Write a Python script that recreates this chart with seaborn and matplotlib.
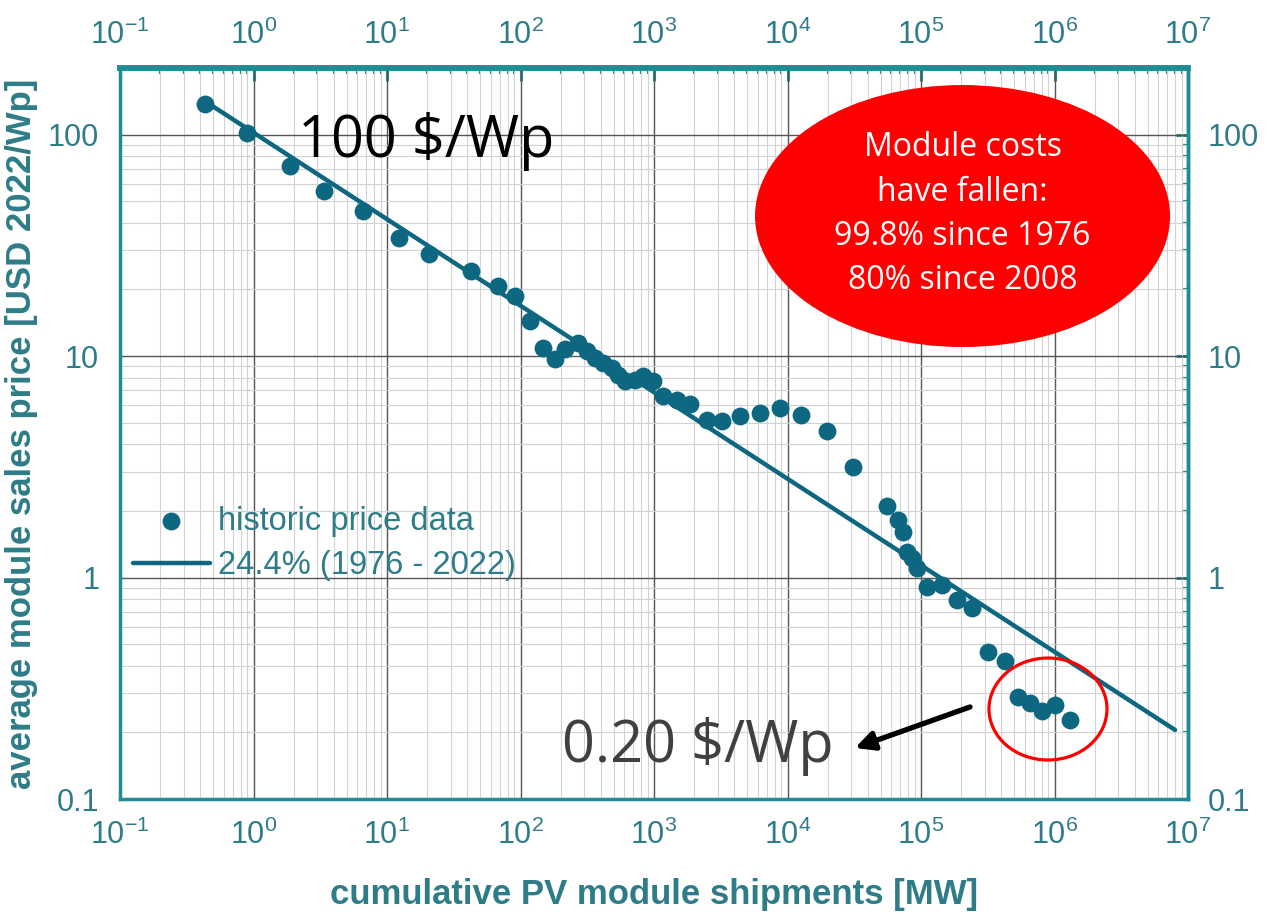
import matplotlib
matplotlib.use("Agg")
import numpy as np
import pandas as pd
import seaborn as sns
import matplotlib.pyplot as plt
from matplotlib.patches import Ellipse

# ---------------- data ----------------
ship_mw = [0.43, 0.89, 1.87, 3.37, 6.65, 12.3, 20.7, 42.6, 68, 91, 118, 148, 181, 215,
           271, 313, 362, 417, 482, 541, 607, 721, 832, 988, 1175, 1479, 1862, 2483,
           3215, 4400, 6220, 8790, 12560, 19660, 31130, 55300, 67600, 73700, 78100,
           85100, 92800, 111600, 143000, 185000, 240000, 319000, 426000, 535000,
           655000, 801000, 1009000, 1306000]
price = [137, 102, 72, 55.5, 45, 34, 28.9, 24.3, 20.8, 18.6, 14.4, 10.9, 9.7, 10.8,
         11.5, 10.5, 9.8, 9.3, 8.8, 8.2, 7.7, 7.8, 8.1, 7.7, 6.6, 6.35, 6.1, 5.16,
         5.07, 5.34, 5.52, 5.82, 5.43, 4.57, 3.17, 2.11, 1.82, 1.61, 1.31,
         1.22, 1.10, 0.91, 0.93, 0.79, 0.73, 0.46, 0.42, 0.29,
         0.27, 0.25, 0.266, 0.228]
fit_x = [0.43, 8.0e6]
fit_y = [142, 0.205]

x_ticks = [1e-1, 1e0, 1e1, 1e2, 1e3, 1e4, 1e5, 1e6, 1e7]
x_tick_labels = ["10$^{-1}$", "10$^{0}$", "10$^{1}$", "10$^{2}$", "10$^{3}$",
                 "10$^{4}$", "10$^{5}$", "10$^{6}$", "10$^{7}$"]
y_ticks = [0.1, 1, 10, 100]
y_tick_labels = ["0.1", "1", "10", "100"]

scatter_label = "historic price data"
line_label = "24.4% (1976 - 2022)"
x_title = "cumulative PV module shipments [MW]"
y_title = "average module sales price [USD 2022/Wp]"
bubble_text = "Module costs\nhave fallen:\n99.8% since 1976\n80% since 2008"
high_text = "100 $/Wp"
low_text = "0.20 $/Wp"

# ---------------- style ----------------
PT = "#0d6780"   # points / line
SP = "#1f8c94"   # spines / ticks
TX = "#2e7c87"   # text

sns.set_theme(style="white")
plt.rcParams["font.family"] = ["Liberation Sans", "DejaVu Sans"]
plt.rcParams["mathtext.fontset"] = "custom"
plt.rcParams["mathtext.rm"] = "Liberation Sans"
plt.rcParams["mathtext.it"] = "Liberation Sans:italic"
plt.rcParams["mathtext.bf"] = "Liberation Sans:bold"

W, H = 1268, 922
fig = plt.figure(figsize=(W / 100, H / 100), dpi=100)
ax = fig.add_axes([120 / W, 1 - 799 / H, 1068 / W, 731 / H])
ax.set_xscale("log")
ax.set_yscale("log")

df = pd.DataFrame({"ship": ship_mw, "price": price})
fit = pd.DataFrame({"x": fit_x, "y": fit_y})

sns.lineplot(data=fit, x="x", y="y", ax=ax, color=PT, lw=3.2, label=line_label, zorder=3)
sns.scatterplot(data=df, x="ship", y="price", ax=ax, s=165, color=PT, edgecolor=PT,
                linewidth=0, label=scatter_label, zorder=4)

ax.set_xlim(0.1, 1e7)
ax.set_ylim(0.1, 200)
ax.set_axisbelow(True)
ax.grid(True, which="major", color="#555555", lw=1.0)
ax.grid(True, which="minor", color="#d2d2d2", lw=0.8)

LS = 22
ax.set_xticks(x_ticks, labels=x_tick_labels)
ax.set_yticks(y_ticks, labels=y_tick_labels)
ax.tick_params(which="major", direction="out", length=9, width=2.2, color=SP,
               labelcolor=TX, labelsize=LS, pad=6)
ax.tick_params(which="minor", direction="out", length=4, width=1.6, color=SP)
for s in ax.spines.values():
    s.set_color(SP)
    s.set_linewidth(2.5)
ax.spines["top"].set_linewidth(4)

secx = ax.secondary_xaxis("top")
secx.set_ticks(x_ticks, labels=x_tick_labels)
secx.tick_params(which="major", direction="in", length=9, width=2.2, color=SP,
                 labelcolor=TX, labelsize=LS, pad=12)
secx.tick_params(which="minor", direction="in", length=4, width=1.6, color=SP)
secy = ax.secondary_yaxis("right")
secy.set_ticks(y_ticks, labels=y_tick_labels)
secy.tick_params(which="major", direction="in", length=9, width=2.2, color=SP,
                 labelcolor=TX, labelsize=LS, pad=14)
secy.tick_params(which="minor", direction="in", length=4, width=1.6, color=SP)
for sec in (secx, secy):
    for s in sec.spines.values():
        s.set_color(SP)
        s.set_linewidth(2.5)
secx.spines["top"].set_linewidth(4)

ax.set_xlabel(x_title, fontsize=25, fontweight="bold", color=TX)
ax.set_ylabel(y_title, fontsize=25, fontweight="bold", color=TX)
ax.xaxis.set_label_coords(0.5, -0.108)
ax.yaxis.set_label_coords(-0.077, 0.5)

# legend: scatter entry first as in reference
h, l = ax.get_legend_handles_labels()
order = [l.index(scatter_label), l.index(line_label)]
leg = ax.legend([h[i] for i in order], [l[i] for i in order], loc="upper left",
                bbox_to_anchor=(0.012, 0.401), frameon=False, fontsize=23.5,
                labelcolor=TX, handlelength=2.35, handletextpad=0.25,
                labelspacing=0.4, borderpad=0, borderaxespad=0)

# red bubble
ax.add_patch(Ellipse((0.7889, 0.7975), 0.3886, 0.3584, transform=ax.transAxes,
                     facecolor="#ff0000", edgecolor="none", zorder=6, clip_on=False))
ax.text(0.7889, 0.800, bubble_text, transform=ax.transAxes, ha="center", va="center",
        multialignment="center", color="white", fontsize=23, family="Open Sans",
        linespacing=1.45, zorder=7)

# red circle around latest points
ax.add_patch(Ellipse((0.8689, 0.1231), 0.1105, 0.1395, transform=ax.transAxes,
                     facecolor="none", edgecolor="#ff0000", lw=2.3, zorder=6, clip_on=False))

# big annotations
ax.text(0.1667, 0.8782, high_text, transform=ax.transAxes, ha="left", va="baseline",
        color="black", fontsize=41.5, family="Open Sans", zorder=7)
ax.text(0.4136, 0.0506, low_text, transform=ax.transAxes, ha="left", va="baseline",
        color="#404040", fontsize=41.5, family="Open Sans", zorder=7)
ax.annotate("", xy=(0.6882, 0.0698), xytext=(0.7959, 0.1259),
            xycoords="axes fraction", textcoords="axes fraction",
            arrowprops=dict(arrowstyle="-|>", color="black", lw=3.8,
                            mutation_scale=28, shrinkA=0, shrinkB=0), zorder=7)

fig.savefig("out.png", dpi=100)
